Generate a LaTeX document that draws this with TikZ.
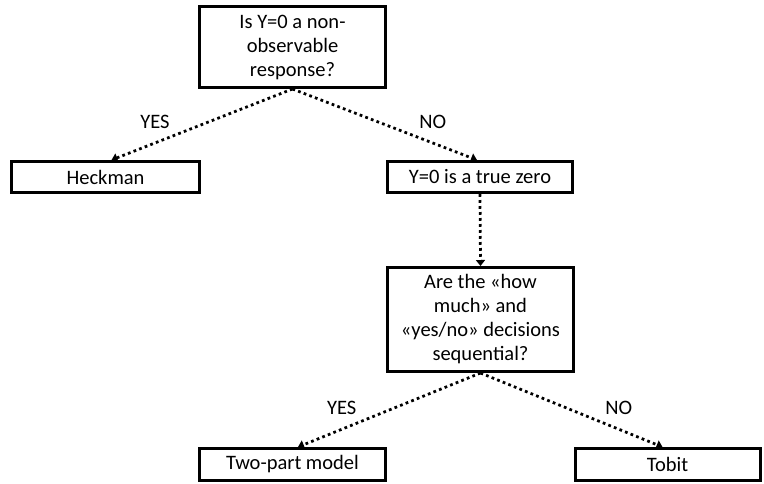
\documentclass[tikz,border=0pt]{standalone}
\usepackage{fontspec}
\setmainfont{Carlito}
\usetikzlibrary{arrows.meta}
\begin{document}
\begin{tikzpicture}
  [x=1pt,y=-1pt,every node/.style={font=\fontsize{20.5}{24}\selectfont,align=center}]
  \tikzstyle{box} = [draw,line width=3pt,shape=rectangle,inner sep=0pt]
  \tikzstyle{dotarrow} = [line width=2.75pt,dash pattern=on 2.75pt off 3.25pt,-{Triangle[width=9pt,length=6pt]}]
  \tikzstyle{answer} = [inner sep=0pt]
  \useasboundingbox (0,0) rectangle (764,483);
  \node[box,minimum width=186pt,minimum height=81pt] (q1) at (292.5,47) {Is Y=0 a non-\\observable\\response?};
  \node[box,minimum width=188pt,minimum height=31pt] (heck) at (105.5,177) {Heckman};
  \node[box,minimum width=185pt,minimum height=31pt] (zero) at (480,177) {Y=0 is a true zero};
  \node[box,minimum width=186pt,minimum height=104pt] (q2) at (480.5,319.5) {Are the «how\\much» and\\«yes/no» decisions\\sequential?};
  \node[box,minimum width=186pt,minimum height=32pt] (twopart) at (292.5,464.5) {Two-part model};
  \node[box,minimum width=185pt,minimum height=32pt] (tobit) at (667.5,464.5) {Tobit};
  \foreach \source /\dest /\shift /\answer in {q1/heck/6/YES,q1/zero/-3/NO,q2/twopart/5.5/YES,q2/tobit/-5/NO}
   \draw[dotarrow] (\source.south) -- node[answer,pos=.76,above=13pt] {\answer} ([xshift=\shift pt]\dest.north);
  \draw[dotarrow] (zero.south) -- (q2.north);
\end{tikzpicture}
\end{document}
